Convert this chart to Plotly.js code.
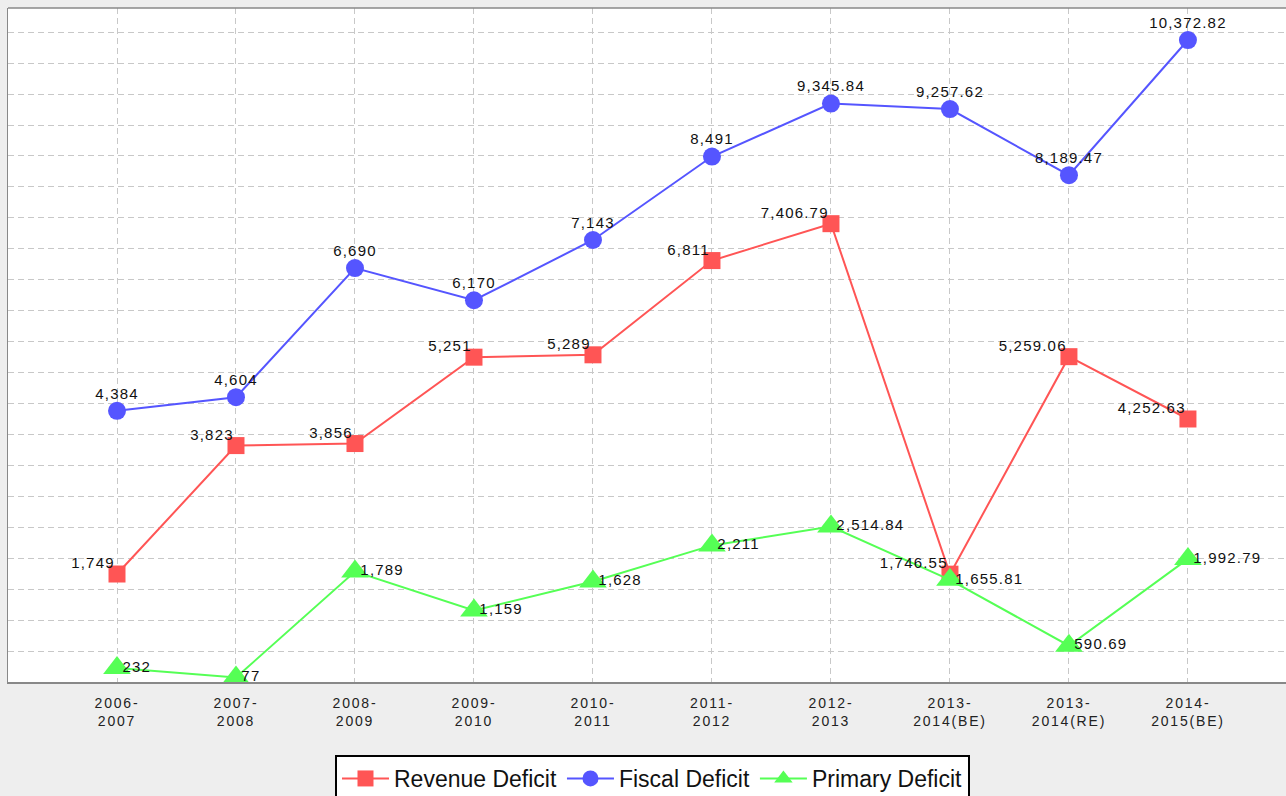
<!DOCTYPE html>
<html>
<head>
<meta charset="utf-8">
<script src="https://cdn.plot.ly/plotly-3.0.1.min.js"></script>
<style>
html,body{margin:0;padding:0;background:#eeeeee;}
#chart{width:1286px;height:796px;}
.xtick text{letter-spacing:1.8px;}
.textpoint text{letter-spacing:1.2px;}
</style>
</head>
<body>
<div id="chart"></div>
<script>
const categories = ["2006-<br>2007","2007-<br>2008","2008-<br>2009","2009-<br>2010","2010-<br>2011","2011-<br>2012","2012-<br>2013","2013-<br>2014(BE)","2013-<br>2014(RE)","2014-<br>2015(BE)"];
const revenueDeficit = [1749, 3823, 3856, 5251, 5289, 6811, 7406.79, 1746.55, 5259.06, 4252.63];
const fiscalDeficit = [4384, 4604, 6690, 6170, 7143, 8491, 9345.84, 9257.62, 8189.47, 10372.82];
const primaryDeficit = [232, 77, 1789, 1159, 1628, 2211, 2514.84, 1655.81, 590.69, 1992.79];

const font = "Liberation Sans, Arial, sans-serif";
const textFont = {family:font,size:15,color:'#111'};

function series(name, y, color, symbol, size) {
  return {type:'scatter', mode:'lines+markers', name:name, x:categories, y:y, cliponaxis:false, hoverinfo:'skip',
    line:{color:color,width:2}, marker:{symbol:symbol,size:size,color:color}};
}
function labels(y, pos, mode, msize) {
  return {type:'scatter', mode:mode, x:categories, y:y, texttemplate:'%{y:,}', textposition:pos, textfont:textFont,
    marker:{size:msize, color:'rgba(0,0,0,0)'}, showlegend:false, cliponaxis:false, hoverinfo:'skip'};
}

const traces = [
  series('Revenue Deficit', revenueDeficit, '#ff5555', 'square', 17),
  series('Fiscal Deficit', fiscalDeficit, '#5555ff', 'circle', 18),
  series('Primary Deficit', primaryDeficit, '#55ff55', 'triangle-up', 24),
  labels(revenueDeficit, 'top left', 'markers+text', 2),
  labels(fiscalDeficit, 'top center', 'markers+text', 12),
  labels(primaryDeficit, 'middle right', 'markers+text', 7)
];

const layout = {
  width:1286, height:796,
  margin:{l:8, r:0, t:8, b:114, autoexpand:false},
  paper_bgcolor:'#eeeeee', plot_bgcolor:'#ffffff',
  showlegend:true,
  legend:{orientation:'h', x:0.5043, xanchor:'center', y:-0.1083, yanchor:'top',
    bgcolor:'#ffffff', bordercolor:'#000000', borderwidth:2, itemwidth:47,
    font:{family:font,size:23,color:'#111'}},
  xaxis:{type:'category', range:[-0.916, 9.824], showgrid:true, gridcolor:'#c8c8c8', griddash:'6px,4px', gridwidth:1,
    showline:true, linecolor:'#888888', linewidth:2, mirror:false, ticks:'', ticklabelstandoff:7,
    tickfont:{family:font,size:14,color:'#222'}, fixedrange:true, zeroline:false},
  yaxis:{range:[5,10890], dtick:500, tick0:0, showgrid:true, gridcolor:'#c8c8c8', griddash:'6px,4px', gridwidth:1,
    showticklabels:false, ticks:'', showline:true, linecolor:'#888888', linewidth:1, zeroline:false, fixedrange:true},
  shapes:[{type:'line', xref:'paper', yref:'paper', x0:0, x1:1, y0:1, y1:1, line:{color:'#888888', width:1.5}}]
};

Plotly.newPlot('chart', traces, layout, {displayModeBar:false, staticPlot:true});
</script>
</body>
</html>
